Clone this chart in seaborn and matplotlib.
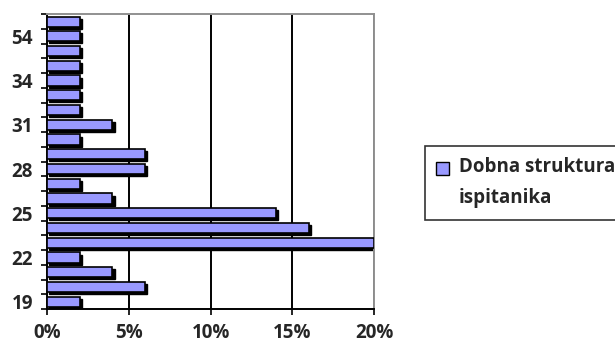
import matplotlib
matplotlib.use("Agg")
import matplotlib.pyplot as plt
import seaborn as sns
import pandas as pd
from matplotlib.patches import Rectangle
from matplotlib.transforms import ScaledTranslation
from matplotlib.ticker import FixedLocator

# Data (percent of respondents by age)
ages = ["19", "20", "21", "22", "23", "24", "25", "26", "27", "28",
        "29", "30", "31", "32", "33", "34", "38", "45", "54", "56"]
percent = [2, 6, 4, 2, 20, 16, 14, 4, 2, 6,
           6, 2, 4, 2, 2, 2, 2, 2, 2, 2]
series_name = "Dobna struktura\nispitanika"
x_ticks = [0, 5, 10, 15, 20]
x_labels = ["0%", "5%", "10%", "15%", "20%"]

df = pd.DataFrame({"age": ages, "percent": percent})

sns.set_style("white")
plt.rcParams["font.family"] = ["Open Sans", "DejaVu Sans"]

fig = plt.figure(figsize=(6.15, 3.45), dpi=100)
ax = fig.add_axes([0.0764, 0.104, 0.532, 0.855])

sns.barplot(data=df, x="percent", y="age", order=ages, orient="h",
            color="#9999FF", saturation=1, width=0.68,
            edgecolor="black", linewidth=1.2, ax=ax, zorder=3,
            label=series_name)

# 3D-like dark offset behind each bar
off = ScaledTranslation(2.2 / 100, -2.2 / 100, fig.dpi_scale_trans)
for p in list(ax.patches):
    r = Rectangle(p.get_xy(), p.get_width(), p.get_height(),
                  facecolor="black", edgecolor="black", linewidth=1.0,
                  transform=ax.transData + off, zorder=2.5)
    ax.add_patch(r)

n = len(ages)
ax.set_ylim(-0.5, n - 0.5)
ax.set_xlim(0, 20)

tick_font = {"family": ["Open Sans", "DejaVu Sans"], "weight": "bold", "size": 13.5}

ax.set_xticks(x_ticks)
ax.set_xticklabels(x_labels, fontdict=tick_font)
ax.grid(axis="x", color="black", linewidth=1.4, zorder=0)
ax.grid(axis="y", visible=False)
ax.set_axisbelow(True)

# y ticks: labels every 3rd category, tick marks at category boundaries
label_idx = list(range(0, n, 3))
ax.set_yticks(label_idx)
ax.set_yticklabels([ages[i] for i in label_idx], fontdict=tick_font)
ax.yaxis.set_minor_locator(FixedLocator([i + 0.5 for i in range(-1, n)]))
ax.tick_params(axis="y", which="major", length=0, pad=10)
ax.tick_params(axis="y", which="minor", length=4, width=1.2, color="black",
               direction="out", left=True)
ax.tick_params(axis="x", which="major", length=4, width=1.2, color="black",
               direction="out", bottom=True, pad=6)

ax.set_xlabel("")
ax.set_ylabel("")

for side in ["left", "bottom"]:
    ax.spines[side].set_color("black")
    ax.spines[side].set_linewidth(1.4)
for side in ["top", "right"]:
    ax.spines[side].set_visible(True)
    ax.spines[side].set_color("#909090")
    ax.spines[side].set_linewidth(1.4)

leg = ax.legend(loc="upper left", bbox_to_anchor=(0.691, 0.577),
                bbox_transform=fig.transFigure, frameon=True, fancybox=False,
                prop={"family": ["Open Sans", "DejaVu Sans"], "weight": "bold", "size": 13.5},
                handlelength=0.7, handleheight=0.7, handletextpad=0.5,
                borderpad=0.6, borderaxespad=0)
leg.get_frame().set_edgecolor("black")
leg.get_frame().set_linewidth(1.2)
for t in leg.get_texts():
    t.set_linespacing(1.75)
for h in leg.legend_handles:
    h.set_edgecolor("black")
    h.set_linewidth(1.0)
    h.set_y(h.get_y() + 11)

fig.savefig("out.png", dpi=100)
